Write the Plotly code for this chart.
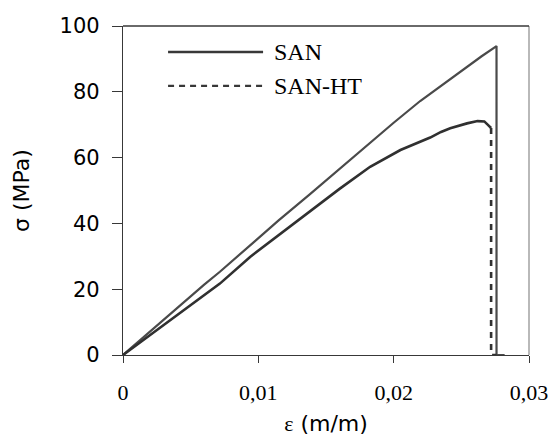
import plotly.graph_objects as go

# SAN: strain (m/m) and stress (MPa)
san_strain = [0, 0.002, 0.004, 0.006, 0.00716, 0.00939, 0.0115, 0.01382, 0.016,
              0.01826, 0.02, 0.02196, 0.0235, 0.025, 0.0265, 0.0276, 0.0276, 0.0282]
san_stress = [0, 7.2, 14.3, 21.4, 25.3, 33.4, 40.9, 48.9, 56.6,
              64.6, 70.6, 77.2, 81.9, 86.5, 90.8, 93.9, 0, 0]

# SAN-HT curve (before break) and break
ht_strain = [0, 0.002, 0.004, 0.00716, 0.00939, 0.01382, 0.016, 0.01826, 0.0205,
             0.0227, 0.0235, 0.02418, 0.025, 0.02542, 0.0262, 0.0267, 0.0270, 0.0272]
ht_stress = [0, 6.1, 12.2, 21.7, 29.8, 43.5, 50.5, 57.2, 62.3,
             66.1, 67.8, 68.9, 69.9, 70.4, 71.1, 71.0, 69.8, 69.0]
ht_break_strain = [0.0272, 0.0272, 0.0276]
ht_break_stress = [69.0, 0, 0]

x_ticks = [0, 0.01, 0.02, 0.03]
x_ticktext = ["0", "0,01", "0,02", "0,03"]
y_ticks = [0, 20, 40, 60, 80, 100]
legend_names = ["SAN", "SAN-HT"]

serif = "Liberation Serif, Times New Roman, serif"
sans = "DejaVu Sans, Verdana, sans-serif"
dark = "#383838"

fig = go.Figure()
fig.add_trace(go.Scatter(x=san_strain, y=san_stress, mode="lines",
                         line=dict(color="#4a4a4a", width=2.2), cliponaxis=False,
                         showlegend=False))
fig.add_trace(go.Scatter(x=ht_strain, y=ht_stress, mode="lines",
                         line=dict(color="#303030", width=2.6), cliponaxis=False,
                         showlegend=False))
fig.add_trace(go.Scatter(x=ht_break_strain, y=ht_break_stress, mode="lines",
                         line=dict(color="#303030", width=2.6, dash="6px,6px"),
                         cliponaxis=False, showlegend=False))

# Manual legend (long sample lines as in the reference)
legend_y = [0.921, 0.818]
dashes = ["solid", "6px,5px"]
for name, ly, dsh in zip(legend_names, legend_y, dashes):
    fig.add_shape(type="line", xref="paper", yref="paper",
                  x0=0.111, x1=0.345, y0=ly, y1=ly,
                  line=dict(color=dark, width=2.4, dash=dsh))
    fig.add_annotation(xref="paper", yref="paper", x=0.366, y=ly, text=name,
                       showarrow=False, xanchor="left", yanchor="middle",
                       font=dict(family=serif, size=24, color="black"))

# right border in light gray
fig.add_shape(type="line", xref="paper", yref="paper", x0=1, x1=1, y0=0, y1=1,
              line=dict(color="#8a8a8a", width=1.2))

fig.update_layout(
    width=551, height=429,
    margin=dict(l=115, r=30, t=18, b=82, autoexpand=False),
    paper_bgcolor="white", plot_bgcolor="white",
    xaxis=dict(range=[0, 0.03], tickvals=x_ticks, ticktext=x_ticktext,
               automargin=False,
               showgrid=False, zeroline=False, showline=True, linecolor=dark,
               linewidth=1.3, mirror=False, ticks="outside", ticklen=7,
               tickcolor=dark, tickwidth=1.3, ticklabelstandoff=10,
               tickfont=dict(family=serif, size=22, color="black"),
               title=dict(text="<span style='font-family:Liberation Serif'>ε</span> (m/m)",
                          font=dict(family=sans, size=22, color="black"), standoff=12)),
    yaxis=dict(range=[0, 100], tickvals=y_ticks, showgrid=False, zeroline=False,
               automargin=False,
               showline=True, linecolor=dark, linewidth=1.3, ticks="outside",
               ticklen=10, tickcolor=dark, tickwidth=1.3, ticklabelstandoff=8,
               tickfont=dict(family=sans, size=21, color="black"),
               title=dict(text="σ (MPa)", font=dict(family=sans, size=22, color="black"),
                          standoff=23)),
)
# top border
fig.add_shape(type="line", xref="paper", yref="paper", x0=0, x1=1, y0=1, y1=1,
              line=dict(color=dark, width=1.3))

fig.write_html("out.html")
